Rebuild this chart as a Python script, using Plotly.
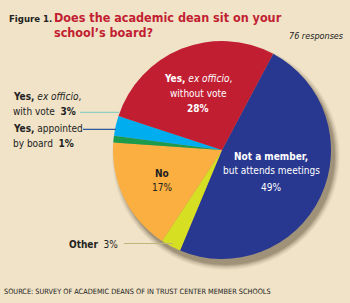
import plotly.graph_objects as go

W, H = 350, 303

# ---- data ----
categories = ["Not a member, but attends meetings", "Other", "No",
              "Yes, appointed by board", "Yes, ex officio, with vote",
              "Yes, ex officio, without vote"]
percent = [49, 3, 17, 1, 3, 28]
colors = ["#283891", "#D7DF23", "#FBAF40", "#1B9B4B", "#00AEEF", "#C21E32"]

BG = "#F0E3C7"

# pie geometry (pixels)
CX, CY, R = 222, 150, 109


def px(x, y):
    return x / W, 1 - y / H


fig = go.Figure()
fig.add_trace(go.Pie(
    labels=categories, values=percent, marker=dict(colors=colors, line=dict(width=0)),
    sort=False, direction="clockwise", rotation=28, textinfo="none",
    hoverinfo="label+percent", showlegend=False,
    domain=dict(x=[(CX - R) / W, (CX + R) / W], y=[1 - (CY + R) / H, 1 - (CY - R) / H]),
))

# soft drop shadow
shapes = []
for k, op in [(10, 0.04), (8, 0.05), (6, 0.06), (4, 0.08), (2, 0.10), (0, 0.14)]:
    sx, sy = CX + 4, CY + 6
    r = R + k * 0.5
    x0, y0 = px(sx - r, sy + r)
    x1, y1 = px(sx + r, sy - r)
    shapes.append(dict(type="circle", xref="paper", yref="paper", x0=x0, y0=y0, x1=x1, y1=y1,
                       fillcolor=f"rgba(40,25,0,{op})", line=dict(width=0), layer="below"))

# leader lines
def hline(x0, x1, y, color):
    a0, b0 = px(x0, y)
    a1, _ = px(x1, y)
    shapes.append(dict(type="line", xref="paper", yref="paper", x0=a0, x1=a1, y0=b0, y1=b0,
                       line=dict(color=color, width=1.2)))

hline(80, 119, 112.3, "#8FCFC3")
hline(83, 116, 129.3, "#2D5A96")
hline(124, 173, 243.5, "#BDB67A")

FONT = "DejaVu Sans Condensed, Liberation Sans Narrow, Roboto, sans-serif"
anns = []


def text(x, y, s, size=10, color="#222", anchor="left", fam=FONT):
    a, b = px(x, y)
    anns.append(dict(x=a, y=b, xref="paper", yref="paper", text=s, showarrow=False,
                     xanchor=anchor, yanchor="middle", font=dict(size=size, color=color, family=fam)))

# title
text(7, 19, "<b>Figure 1.</b>", size=9.5, color="#222")
text(52, 17, "<b>Does the academic dean sit on your</b>", size=12.5, color="#C21E32")
text(52, 33, "<b>school’s board?</b>", size=12.5, color="#C21E32")
text(346, 36, "<i>76 responses</i>", size=9, color="#222", anchor="right")

# left labels
text(11, 96, "<b>Yes,</b> <i>ex officio</i>,", size=10)
text(11, 111, "with vote  <b>3%</b>", size=10)
text(11, 129, "<b>Yes,</b> appointed", size=10)
text(11, 143, "by board  <b>1%</b>", size=10)
text(120, 244, "<b>Other</b>  3%", size=10, anchor="right")

# inside labels
text(198, 78, "<b>Yes,</b> <i>ex officio</i>,", size=10, color="white", anchor="center")
text(198, 93, "without vote", size=10, color="white", anchor="center")
text(198, 108, "<b>28%</b>", size=10, color="white", anchor="center")
text(271, 156, "<b>Not a member,</b>", size=10, color="white", anchor="center")
text(271, 171, "but attends meetings", size=10, color="white", anchor="center")
text(271, 187, "49%", size=10, color="white", anchor="center")
text(162, 173, "<b>No</b>", size=10, color="#222", anchor="center")
text(162, 187, "17%", size=10, color="#222", anchor="center")

# source
text(2, 291, "SOURCE: SURVEY OF ACADEMIC DEANS OF IN TRUST CENTER MEMBER SCHOOLS", size=7.3, color="#222")

fig.update_layout(width=W, height=H, margin=dict(l=0, r=0, t=0, b=0),
                  paper_bgcolor=BG, plot_bgcolor=BG, shapes=shapes, annotations=anns)
fig.write_html("out.html")
